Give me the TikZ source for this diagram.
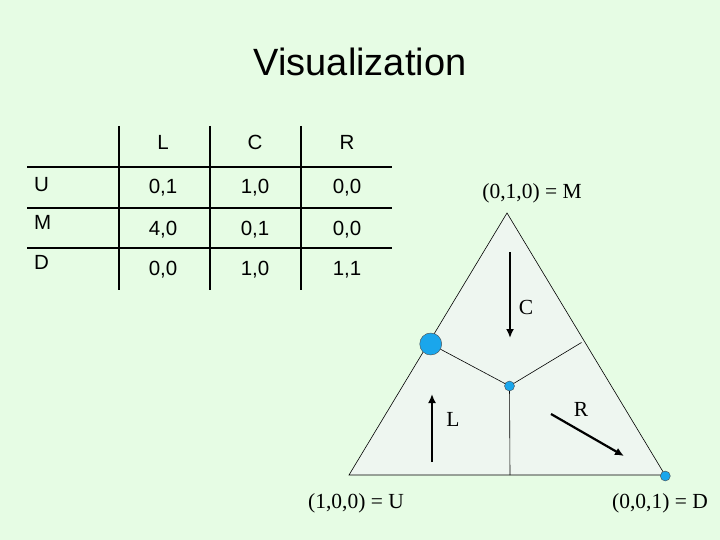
\documentclass[tikz,border=0pt]{standalone}
\usepackage{fontspec}
\usetikzlibrary{arrows.meta}
\setmainfont{Liberation Serif}
\setsansfont{Liberation Sans}
\definecolor{slidebg}{HTML}{E6FCE4}
\definecolor{simplexfill}{HTML}{EEF6F0}
\definecolor{dotblue}{HTML}{1AA6EC}
\tikzset{
  cell/.style={font=\sffamily\fontsize{20.5}{22}\selectfont, inner sep=0pt},
  lab/.style={font=\fontsize{21.5}{24}\selectfont, inner sep=0pt},
  eqdot/.style={circle, draw=black!70, fill=dotblue, inner sep=0pt},
  flow/.style={-{Latex[length=9pt,width=8pt]}, line width=2.2pt},
}
\begin{document}
\begin{tikzpicture}[x=1pt,y=-1pt]
  \fill[slidebg] (0,0) rectangle (720,540);
  \useasboundingbox (0,0) rectangle (720,540);
  \node[font=\sffamily\fontsize{38}{44}\selectfont] (title) at (360,62) {Visualization};
  % payoff table
  \foreach \x in {119,210,301} \draw[line width=1.4pt] (\x,126) -- (\x,290);
  \foreach \y in {167,208,248} \draw[line width=1.4pt] (27,\y) -- (392,\y);
  \foreach \c/\x in {L/163,C/255,R/347} \node[cell] (h\c) at (\x,142) {\c};
  \foreach \r/\y in {U/185,M/222,D/262} \node[cell, anchor=west] (r\r) at (34,\y) {\r};
  \foreach \a/\b/\cc/\y [count=\i] in {{0,1}/{1,0}/{0,0}/188, {4,0}/{0,1}/{0,0}/230, {0,0}/{1,0}/{1,1}/270} {
    \node[cell] (p\i l) at (163,\y) {\a};
    \node[cell] (p\i c) at (255,\y) {\b};
    \node[cell] (p\i r) at (347,\y) {\cc};
  }
  % simplex
  \coordinate (U) at (349,475);
  \coordinate (M) at (507,213);
  \coordinate (D) at (665,475);
  \filldraw[fill=simplexfill, draw=black, line width=0.6pt] (U) -- (M) -- (D) -- cycle;
  \coordinate (mid) at (509.5,386);
  \coordinate (edgeR) at (581.5,342.5);
  \coordinate (edgeB) at (510,475);
  \node[eqdot, minimum size=22pt] (bigdot) at (430.7,344) {};
  \draw[line width=0.6pt] (bigdot) -- (mid) -- (edgeR);
  \draw[line width=0.6pt] (mid) -- (edgeB);
  \node[eqdot, minimum size=10pt] (ctrdot) at (mid) {};
  \node[eqdot, minimum size=10pt] (ddot) at (665.3,476) {};
  % arrows
  \draw[flow] (510,252) -- (510,338);
  \draw[flow] (432,462) -- (432,394);
  \draw[flow] (551,414) -- (624,456);
  \node[lab] (lC) at (526,307) {C};
  \node[lab] (lL) at (453,419) {L};
  \node[lab] (lR) at (581,409) {R};
  \node[lab] (lM) at (532,193) {(0,1,0) = M};
  \node[lab] (lU) at (356,503) {(1,0,0) = U};
  \node[lab] (lD) at (660,503) {(0,0,1) = D};
\end{tikzpicture}
\end{document}
